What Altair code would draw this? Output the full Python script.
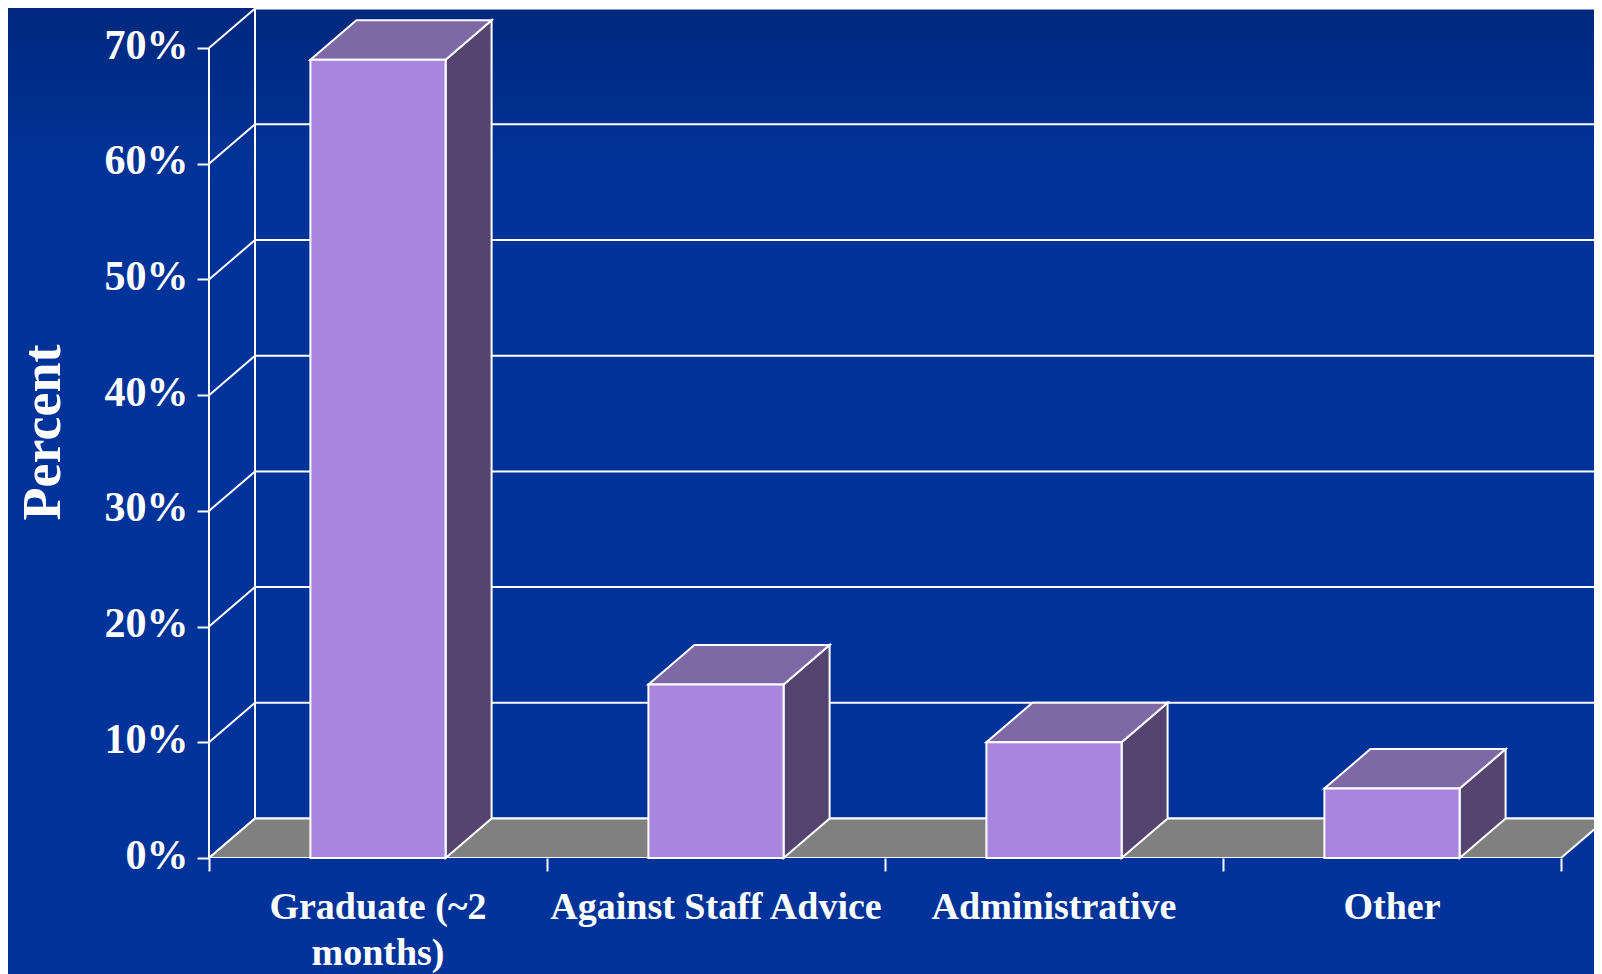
import altair as alt
import pandas as pd

# ---- data ----
categories = ["Graduate (~2\nmonths)", "Against Staff Advice", "Administrative", "Other"]
values = [69, 15, 10, 6]
y_ticks = [0, 10, 20, 30, 40, 50, 60, 70]
x_ticks = [0, 1, 2, 3, 4]

# ---- layout / geometry ----
PLOT_W, PLOT_H = 1385, 850
PAD = {"left": 201, "top": 0, "right": 0, "bottom": 116}
BAND_PX = 338.0
PX_PER_PCT = 11.57
DX = 46 / BAND_PX            # depth offset along x (bands)
DY = 39.5 / PX_PER_PCT       # depth offset along y (percent)
XMAX = PLOT_W / BAND_PX
YMAX = PLOT_H / PX_PER_PCT
HALF = 0.2
TOPV = y_ticks[-1]

FONT = "Liberation Serif"
WHITE = "#ffffff"
BG = "#003399"
BG_TOP = "#00287e"
FRONT_C = "#a886de"
TOP_C = "#7f68a6"
SIDE_C = "#54446f"
FLOOR_C = "#808080"

xs = alt.Scale(domain=[0, XMAX], nice=False, zero=False)
ys = alt.Scale(domain=[0, YMAX], nice=False, zero=False)

# tables built from the arrays
front_rows, side_rows, top_rows, label_rows = [], [], [], []
for i, (c, v) in enumerate(zip(categories, values)):
    xl, xr = i + 0.5 - HALF, i + 0.5 + HALF
    front_rows.append(dict(id=i, x=xl, x2=xr, y=0, y2=v))
    side_rows.append(dict(id=i, x=xr, y=0, y2=v))
    side_rows.append(dict(id=i, x=xr + DX, y=DY, y2=v + DY))
    top_rows.append(dict(id=i, y=v, x=xl, x2=xr))
    top_rows.append(dict(id=i, y=v + DY, x=xl + DX, x2=xr + DX))
    label_rows.append(dict(x=i + 0.5, y=0, label=c))

front_df = pd.DataFrame(front_rows)
side_df = pd.DataFrame(side_rows)
top_df = pd.DataFrame(top_rows)
label_df = pd.DataFrame(label_rows)
floor_df = pd.DataFrame([
    dict(y=0, x=0, x2=len(categories)),
    dict(y=DY, x=DX, x2=len(categories) + DX),
])
grid_df = pd.DataFrame(dict(v=y_ticks, yb=[t + DY for t in y_ticks]))
grid_df["x0"] = 0.0
grid_df["xb"] = DX
grid_df["xe"] = XMAX
wall_df = pd.DataFrame([dict(xf=0.0, xb=DX, y0=0, y1=TOPV, yb0=DY, yb1=TOPV + DY)])

xaxis = alt.Axis(values=x_ticks, labels=False, domain=False, grid=False, zindex=1,
                 ticks=True, tickSize=13, tickWidth=2, tickColor=WHITE, title=None)
yaxis = alt.Axis(values=y_ticks, labelExpr="datum.value + '%'", domain=False, grid=False,
                 zindex=1, ticks=True, tickSize=12, tickWidth=2, tickColor=WHITE,
                 labelColor=WHITE, labelFont=FONT, labelFontWeight="bold",
                 labelFontSize=42, labelPadding=9, labelOffset=-3,
                 title="Percent", titleFont=FONT, titleFontWeight="bold",
                 titleFontSize=54, titleColor=WHITE, titleAngle=270,
                 titleX=-150, titleY=424, titleAlign="center",
                 titleBaseline="alphabetic")


def X(f):
    return alt.X(f, scale=xs, axis=xaxis)


def Y(f):
    return alt.Y(f, scale=ys, axis=yaxis)


LINE = dict(color=WHITE, strokeWidth=2)

# slide backdrop: darker band fading into the page blue at the top
backdrop = alt.Chart(pd.DataFrame({"k": [0]})).mark_rect(
    color=alt.LinearGradient(gradient="linear",
                             stops=[alt.GradientStop(color=BG_TOP, offset=0),
                                    alt.GradientStop(color=BG, offset=1)],
                             x1=0, x2=0, y1=0, y2=1)).encode(
    x=alt.value(-PAD["left"]), x2=alt.value(PLOT_W),
    y=alt.value(0), y2=alt.value(170))

back_lines = alt.Chart(grid_df).mark_rule(**LINE).encode(
    x=X("xb:Q"), x2="xe:Q", y=Y("yb:Q"))

left_lines = alt.Chart(grid_df).mark_rule(**LINE).encode(
    x=X("x0:Q"), x2="xb:Q", y=Y("v:Q"), y2="yb:Q")

back_vert = alt.Chart(wall_df).mark_rule(**LINE).encode(
    x=X("xb:Q"), y=Y("yb0:Q"), y2="yb1:Q")

front_vert = alt.Chart(wall_df).mark_rule(**LINE).encode(
    x=X("xf:Q"), y=Y("y0:Q"), y2="y1:Q")

floor = alt.Chart(floor_df).mark_area(
    orient="horizontal", fill=FLOOR_C, stroke=WHITE, strokeWidth=2,
    opacity=1, clip=True).encode(
    y=Y("y:Q"), x=X("x:Q"), x2="x2:Q")

sides = alt.Chart(side_df).mark_area(
    orient="vertical", fill=SIDE_C, stroke=WHITE, strokeWidth=2,
    opacity=1, strokeJoin="miter").encode(
    x=X("x:Q"), y=Y("y:Q"), y2="y2:Q", detail="id:N")

tops = alt.Chart(top_df).mark_area(
    orient="horizontal", fill=TOP_C, stroke=WHITE, strokeWidth=2,
    opacity=1, strokeJoin="miter").encode(
    y=Y("y:Q"), x=X("x:Q"), x2="x2:Q", detail="id:N")

fronts = alt.Chart(front_df).mark_rect(
    fill=FRONT_C, stroke=WHITE, strokeWidth=2, opacity=1).encode(
    x=X("x:Q"), x2="x2:Q", y=Y("y:Q"), y2="y2:Q")

labels = alt.Chart(label_df).mark_text(
    font=FONT, fontWeight="bold", fontSize=38, color=WHITE,
    align="center", baseline="alphabetic", dy=61,
    lineBreak="\n", lineHeight=46).encode(
    x=X("x:Q"), y=Y("y:Q"), text="label:N")

chart = alt.layer(
    backdrop, back_lines, left_lines, back_vert, front_vert, floor,
    sides, tops, fronts, labels
).properties(
    width=PLOT_W, height=PLOT_H,
    autosize=alt.AutoSizeParams(type="none"),
    padding=PAD,
    background=BG,
).configure_view(stroke=None)

chart.save("out.html", embed_options={"renderer": "svg", "actions": False})
